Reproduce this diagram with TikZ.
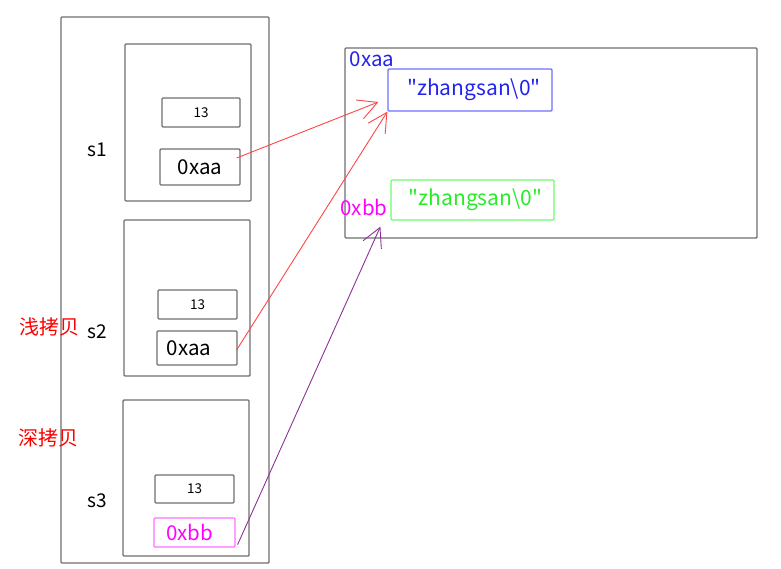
\documentclass[tikz,border=0pt]{standalone}
\usepackage{fontspec}
\setmainfont{Noto Sans CJK SC}
\usetikzlibrary{arrows.meta, positioning}

\definecolor{boxgray}{RGB}{110,110,110}
\definecolor{strblue}{RGB}{35,35,235}
\definecolor{strblueline}{RGB}{110,110,255}
\definecolor{strgreen}{RGB}{40,235,40}
\definecolor{strgreenline}{RGB}{110,250,110}
\definecolor{ptrmagenta}{RGB}{255,0,255}
\definecolor{ptrmagentaline}{RGB}{255,110,255}
\definecolor{shallowred}{RGB}{255,70,70}
\definecolor{deeppurple}{RGB}{140,50,150}

\newcommand{\zsstr}{\textquotedbl zhangsan\textbackslash0\textquotedbl}

\tikzset{
    frame/.style={draw=boxgray, line width=1.4pt, rounded corners=1pt, inner sep=0pt},
    field/.style={frame, line width=1.2pt},
    ptrarrow/.style={line width=0.9pt, -{Straight Barb[length=19pt, width=20pt]}}
}

\begin{document}
\begin{tikzpicture}[x=1pt, y=-1pt]
    \useasboundingbox (0,0) rectangle (781,568);

    % Stack frame
    \node[frame, minimum width=208pt, minimum height=546pt] (stack) at (165,290) {};

    % Object s1
    \node[frame, minimum width=126pt, minimum height=157pt] (s1box) at (188,122.5) {};
    \node[field, minimum width=78pt, minimum height=29pt, font=\fontsize{13.5}{15}\selectfont] (s1age) at (201,112.5) {13};
    \node[field, minimum width=80pt, minimum height=36pt, font=\fontsize{20.5}{24}\selectfont] (s1ptr) at (200,167) {0xaa};
    \node[font=\fontsize{19}{22}\selectfont] (s1name) at (97,150) {s1};

    % Object s2
    \node[frame, minimum width=126pt, minimum height=156pt] (s2box) at (187,298) {};
    \node[field, minimum width=79pt, minimum height=29pt, font=\fontsize{13.5}{15}\selectfont] (s2age) at (197.5,304.5) {13};
    \node[field, minimum width=80pt, minimum height=34pt, font=\fontsize{20.5}{24}\selectfont] (s2ptr) at (197,348) {0xaa\hspace*{16pt}};
    \node[font=\fontsize{19}{22}\selectfont] (s2name) at (97,332) {s2};

    % Object s3
    \node[frame, minimum width=126pt, minimum height=156pt] (s3box) at (186,478) {};
    \node[field, minimum width=79pt, minimum height=28pt, font=\fontsize{13.5}{15}\selectfont] (s3age) at (194.5,489) {13};
    \node[field, draw=ptrmagentaline, text=ptrmagenta, minimum width=81pt, minimum height=29pt, font=\fontsize{20.5}{24}\selectfont] (s3ptr) at (194.5,532.5) {0xbb\hspace*{10pt}};
    \node[font=\fontsize{19}{22}\selectfont] (s3name) at (97,501) {s3};

    % Copy labels
    \node[text=red, font=\fontsize{20}{22}\selectfont] (shallow) at (49,327) {浅拷贝};
    \node[text=red, font=\fontsize{20}{22}\selectfont] (deep) at (48,438) {深拷贝};

    % Heap
    \node[frame, minimum width=412pt, minimum height=190pt] (heap) at (551,143) {};
    \node[text=strblue, font=\fontsize{20.5}{24}\selectfont] (aaaddr) at (372,59) {0xaa};
    \node[field, draw=strblueline, text=strblue, minimum width=164pt, minimum height=42pt, font=\fontsize{21}{24}\selectfont] (strA) at (470,90) {\hspace*{8pt}\zsstr};
    \node[text=ptrmagenta, font=\fontsize{20.5}{24}\selectfont] (bbaddr) at (364,207) {0xbb};
    \node[field, draw=strgreenline, text=strgreen, minimum width=163pt, minimum height=40pt, font=\fontsize{21}{24}\selectfont] (strB) at (472.5,200) {\hspace*{6pt}\zsstr};

    % Pointers
    \draw[ptrarrow, shallowred] ([xshift=-4pt, yshift=9pt]s1ptr.east) -- ([xshift=-9pt, yshift=-12pt]strA.west);
    \draw[ptrarrow, shallowred] ([xshift=-1pt, yshift=-2pt]s2ptr.east) -- (strA.south west);
    \draw[ptrarrow, deeppurple] ([xshift=2pt, yshift=3pt]s3ptr.south east) -- ([xshift=-10pt, yshift=-6pt]strB.south west);
\end{tikzpicture}
\end{document}
